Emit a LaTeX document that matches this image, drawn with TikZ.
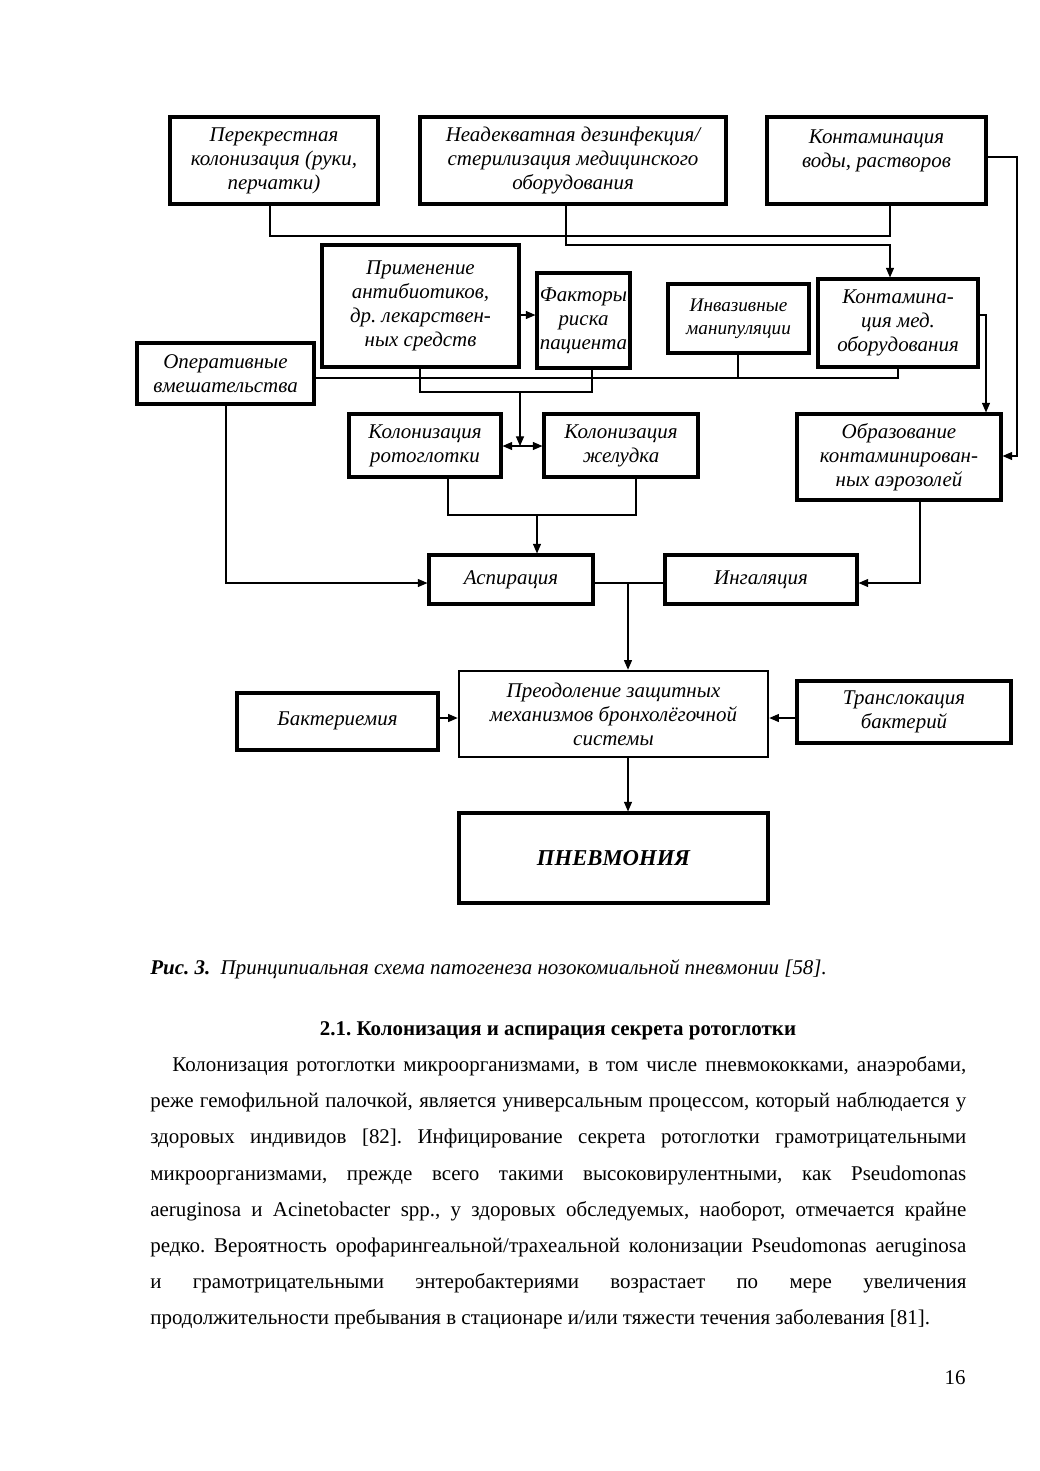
\documentclass[tikz,border=0pt]{standalone}
\usepackage{fontspec}
\setmainfont{Liberation Serif}
\usetikzlibrary{arrows.meta}
\frenchspacing
\newcommand\diagfont{\fontsize{12}{13.75}\selectfont\itshape}
\newcommand\bodyfnt{\fontsize{12}{14.4}\selectfont}
\begin{document}
\begin{tikzpicture}[x=0.5729pt,y=-0.5729pt,
  box/.style={draw, line width=1.8pt, inner sep=0pt, align=center, font=\diagfont},
  sz/.style 2 args={minimum width=#1*0.5729pt, minimum height=#2*0.5729pt},
  conn/.style={line width=0.6pt},
  tip/.tip={Triangle[length=5.5pt,width=4.6pt]},
  arr/.style={conn, -tip},
  txt/.style={anchor=base west, inner sep=0pt, font=\bodyfnt},
]
\useasboundingbox[fill=white] (0,0) rectangle (1039,1471);

% boxes
\node[box, sz={208}{87}] (A) at (274,160.5) {Перекрестная\\колонизация (руки,\\перчатки)};
\node[box, sz={306}{87}] (B) at (573,160.5) {Неадекватная дезинфекция/\\стерилизация медицинского\\оборудования};
\node[box, sz={219}{87}] (C) at (876.5,160.5) {Контаминация\\воды, растворов\\\mbox{}};
\node[box, sz={197}{122}] (P) at (420.5,306) {Применение\\антибиотиков,\\др. лекарствен-\\ных средств};
\node[box, sz={93}{95}] (F) at (583.5,320.5) {Факторы\\риска\\пациента};
\node[box, sz={141}{69}, font=\fontsize{11}{13.2}\selectfont\itshape] (I) at (738.5,318.5) {Инвазивные\\манипуляции};
\node[box, sz={160}{88}] (D) at (898,323) {Контамина-\\ция мед.\\оборудования};
\node[box, sz={177}{61}] (O) at (225.5,373.5) {Оперативные\\вмешательства};
\node[box, sz={152}{63}] (K1) at (425,445.5) {Колонизация\\ротоглотки};
\node[box, sz={154}{63}] (K2) at (621,445.5) {Колонизация\\желудка};
\node[box, sz={204}{86}] (E) at (899,457) {Образование\\контаминирован-\\ных аэрозолей};
\node[box, sz={164}{49}] (As) at (511,579.5) {Аспирация};
\node[box, sz={192}{49}] (In) at (761,579.5) {Ингаляция};
\node[box, sz={309}{86}, line width=1.5pt] (Pr) at (613.5,714) {Преодоление защитных\\механизмов бронхолёгочной\\системы};
\node[box, sz={201}{57}] (Ba) at (337.5,721.5) {\raisebox{3pt}{Бактериемия}};
\node[box, sz={214}{62}] (Tr) at (904,712) {Транслокация\\бактерий};
\node[box, sz={309}{90}, font=\fontsize{13}{15}\selectfont\itshape\bfseries] (Pn) at (613.5,858) {ПНЕВМОНИЯ};

% connectors
\coordinate (jA) at (270,236); \coordinate (jC) at (890,236);
\draw[conn] (A.south -| jA) -- (jA) -- (jC) -- (C.south -| jC);
\coordinate (jB) at (566,245); \coordinate (jD) at (890,245);
\draw[arr] (B.south -| jB) -- (jB) -- (jD) -- (D.north -| jD);
\coordinate (yPF) at (0,315);
\draw[arr] (P.east |- yPF) -- (F.west |- yPF);
\coordinate (jDE) at (986,315);
\draw[arr] (D.east |- jDE) -- (jDE) -- (E.north -| jDE);
\coordinate (jC1) at (1017,157); \coordinate (jC2) at (1017,456);
\draw[arr] (C.east |- jC1) -- (jC1) -- (jC2) -- (E.east |- jC2);
\coordinate (jO) at (898,378);
\draw[conn] (O.east |- jO) -- (jO) -- (D.south -| jO);
\coordinate (jI) at (738,378);
\draw[conn] (I.south -| jI) -- (jI);
\coordinate (jP) at (420,392); \coordinate (jF) at (592,392); \coordinate (jM) at (520,392);
\draw[conn] (P.south -| jP) -- (jP) -- (jF) -- (F.south -| jF);
\coordinate (kk) at (520,446);
\draw[conn, tip-tip] (K1.east |- kk) -- (K2.west |- kk);
\draw[arr] (jM) -- (kk);
\coordinate (jK1) at (448,515); \coordinate (jK2) at (636,515); \coordinate (jK) at (537,515);
\draw[conn] (K1.south -| jK1) -- (jK1) -- (jK2) -- (K2.south -| jK2);
\draw[arr] (jK) -- (As.north -| jK);
\coordinate (jOa) at (226,583);
\draw[arr] (O.south -| jOa) -- (jOa) -- (As.west |- jOa);
\coordinate (jE) at (920,583);
\draw[arr] (E.south -| jE) -- (jE) -- (In.east |- jE);
\coordinate (jAI) at (628,583);
\draw[conn] (As.east |- jAI) -- (In.west |- jAI);
\draw[arr] (jAI) -- (Pr.north -| jAI);
\coordinate (yB) at (0,718);
\draw[arr] (Ba.east |- yB) -- (Pr.west |- yB);
\draw[arr] (Tr.west |- yB) -- (Pr.east |- yB);
\draw[arr] (Pr.south -| jAI) -- (Pn.north -| jAI);

% caption, heading, text
\node[txt] (cap) at (150,974) {\textbf{\textit{Рис. 3.}}\ \ \textit{Принципиальная схема патогенеза нозокомиальной пневмонии [58].}};
\node[anchor=base, inner sep=0pt, font=\bodyfnt\bfseries] (head) at (558,1035) {2.1. Колонизация и аспирация секрета ротоглотки};
\node[txt] (l1) at (172,1071.5) {\makebox[454.9pt][s]{Колонизация ротоглотки микроорганизмами, в том числе пневмококками, анаэробами,}};
\node[txt] (l2) at (150,1107.7) {\makebox[467.5pt][s]{реже гемофильной палочкой, является универсальным процессом, который наблюдается у}};
\node[txt] (l3) at (150,1143.9) {\makebox[467.5pt][s]{здоровых индивидов [82]. Инфицирование секрета ротоглотки грамотрицательными}};
\node[txt] (l4) at (150,1180.1) {\makebox[467.5pt][s]{микроорганизмами, прежде всего такими высоковирулентными, как Pseudomonas}};
\node[txt] (l5) at (150,1216.3) {\makebox[467.5pt][s]{aeruginosa и Acinetobacter spp., у здоровых обследуемых, наоборот, отмечается крайне}};
\node[txt] (l6) at (150,1252.5) {\makebox[467.5pt][s]{редко. Вероятность орофарингеальной/трахеальной колонизации Pseudomonas aeruginosa}};
\node[txt] (l7) at (150,1288.7) {\makebox[467.5pt][s]{и грамотрицательными энтеробактериями возрастает по мере увеличения}};
\node[txt] (l8) at (150,1324.9) {продолжительности пребывания в стационаре и/или тяжести течения заболевания [81].};
\node[anchor=base east, inner sep=0pt, font=\bodyfnt] (pg) at (966,1384) {16};
\end{tikzpicture}
\end{document}
